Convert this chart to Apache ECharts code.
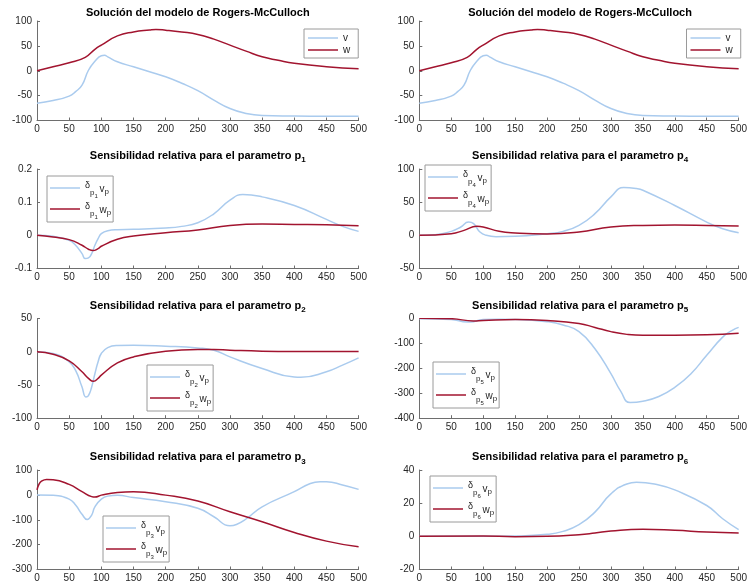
<!DOCTYPE html>
<html>
<head>
<meta charset="utf-8">
<script src="https://cdn.jsdelivr.net/npm/echarts@6/dist/echarts.min.js"></script>
<style>
  html, body { margin: 0; padding: 0; background: #ffffff; }
  #chart { width: 750px; height: 587px; }
</style>
</head>
<body>
<div id="chart"></div>
<script>
// ---- Rogers-McCulloch solution (time samples and values) ----
const tModelV = [0, 25, 50, 60, 70, 80, 90, 100, 105, 110, 125, 150, 175, 200, 225, 250, 275, 300, 325, 350, 400, 450, 500];
const modelV  = [-65.5, -60, -51, -42, -29, 1, 19, 30, 31, 28, 18, 8, -2, -12, -25, -40, -59, -76, -86, -90, -91, -91.5, -91.6];
const tModelW = [0, 25, 50, 75, 90, 100, 125, 150, 175, 185, 200, 225, 250, 275, 300, 325, 350, 375, 400, 450, 500];
const modelW  = [0, 8, 16, 27, 43, 51.5, 70, 78, 82, 83, 81.6, 78, 73, 63.5, 51.5, 39.5, 28, 21, 15, 8, 4];

// ---- relative sensitivity, parameter p1 ----
const tP1V = [0, 25, 50, 60, 70, 75, 80, 85, 90, 95, 100, 110, 125, 150, 200, 225, 250, 275, 300, 320, 350, 400, 450, 475, 500];
const p1V  = [0, -0.003, -0.015, -0.03, -0.055, -0.07, -0.068, -0.055, -0.03, -0.01, 0.005, 0.014, 0.017, 0.018, 0.022, 0.027, 0.038, 0.065, 0.106, 0.123, 0.116, 0.09, 0.048, 0.027, 0.012];
const tP1W = [0, 25, 50, 70, 80, 87, 95, 100, 125, 150, 200, 250, 300, 350, 400, 450, 500];
const p1W  = [0, -0.005, -0.013, -0.03, -0.042, -0.046, -0.04, -0.033, -0.012, -0.002, 0.008, 0.016, 0.03, 0.034, 0.033, 0.032, 0.029];

// ---- relative sensitivity, parameter p2 ----
const tP2V = [0, 25, 50, 60, 70, 76, 80, 85, 90, 95, 100, 110, 125, 150, 200, 250, 275, 300, 350, 400, 410, 450, 475, 500];
const p2V  = [0, -2.5, -15, -28, -53, -68, -66, -53, -33, -15, -2.5, 6.5, 9.6, 10, 8.6, 6, 2.5, -7.6, -25, -38, -38.4, -30, -20, -9];
const tP2W = [0, 25, 50, 70, 80, 88, 95, 100, 125, 150, 200, 250, 275, 300, 350, 400, 500];
const p2W  = [0, -3.5, -13.6, -30, -40, -44.4, -40, -35, -16.7, -7.6, 1, 3.5, 3.5, 2.5, 1, 0.5, 0.5];

// ---- relative sensitivity, parameter p3 ----
const tP3V = [0, 25, 50, 60, 70, 78, 85, 90, 100, 110, 125, 150, 200, 250, 275, 300, 310, 325, 350, 400, 425, 440, 450, 475, 500];
const p3V  = [0, -2, -17, -41, -78, -99, -81, -48, -17, -5, -2, -11, -27.5, -54, -88, -124, -119, -97, -48, 13, 46, 53, 53, 40, 22];
const tP3W = [0, 3, 7, 15, 25, 50, 70, 85, 90, 100, 125, 150, 200, 250, 300, 350, 400, 450, 500];
const p3W  = [20, 42, 55, 62, 61, 42, 13, -7, -9, -1, 10, 13, -1, -25, -68, -108, -151, -186, -209];

// ---- relative sensitivity, parameter p4 ----
const tP4V = [0, 25, 50, 65, 77, 85, 95, 105, 120, 150, 200, 225, 250, 275, 300, 320, 340, 350, 400, 450, 475, 500];
const p4V  = [0, 1, 6, 12.6, 20, 17.6, 5, 0, -2, -1.5, 2.5, 6, 15, 32.7, 58, 72, 70.5, 68, 45, 20, 10, 4];
const tP4W = [0, 50, 70, 90, 100, 125, 150, 200, 250, 300, 350, 400, 450, 500];
const p4W  = [0, 2.5, 7.5, 13.6, 12.6, 6, 3.5, 2, 5, 12.6, 15, 15.6, 15, 14];

// ---- relative sensitivity, parameter p5 ----
const tP5V = [0, 50, 75, 80, 100, 125, 150, 200, 225, 250, 275, 300, 315, 330, 350, 375, 400, 425, 450, 475, 490, 500];
const p5V  = [0, -3, -13, -13, -3, -2, -3, -12, -25, -52, -121, -221, -290, -337, -332, -313, -276, -222, -147, -74, -47, -35];
const tP5W = [0, 50, 85, 100, 150, 200, 250, 275, 300, 325, 350, 400, 450, 500];
const p5W  = [2, 0, -9, -7, -3, -7, -19, -35, -52, -63, -67, -67, -65, -58];

// ---- relative sensitivity, parameter p6 ----
const tP6V = [0, 100, 150, 200, 225, 250, 275, 300, 325, 340, 375, 400, 450, 475, 500];
const p6V  = [0, 0, 0.2, 1.2, 3, 7, 14.6, 25.6, 31.6, 32.6, 31, 28, 18.6, 10.6, 4];
const tP6W = [0, 100, 150, 200, 250, 275, 300, 350, 400, 450, 500];
const p6W  = [0, 0.2, -0.2, 0, 1, 2, 3.2, 4.2, 3.6, 2.6, 2];

// ---- axis ticks ----
const timeTicks   = [0, 50, 100, 150, 200, 250, 300, 350, 400, 450, 500];
const yTicksModel = [-100, -50, 0, 50, 100];
const yTicksP1    = [-0.1, 0, 0.1, 0.2];
const yTicksP2    = [-100, -50, 0, 50];
const yTicksP3    = [-300, -200, -100, 0, 100];
const yTicksP4    = [-50, 0, 50, 100];
const yTicksP5    = [-400, -300, -200, -100, 0];
const yTicksP6    = [-20, 0, 20, 40];

const MODEL_TITLE = 'Solución del modelo de Rogers-McCulloch';
const SENS_TITLE = 'Sensibilidad relativa para el parametro p';

// subplot layout: 4 rows x 2 columns
const panels = [
  { param: null, tv: tModelV, v: modelV, tw: tModelW, w: modelW, ticks: yTicksModel, row: 0, col: 0, leg: [304, 29] },
  { param: null, tv: tModelV, v: modelV, tw: tModelW, w: modelW, ticks: yTicksModel, row: 0, col: 1, leg: [686.5, 29] },
  { param: 1, tv: tP1V, v: p1V, tw: tP1W, w: p1W, ticks: yTicksP1, row: 1, col: 0, leg: [47, 176] },
  { param: 4, tv: tP4V, v: p4V, tw: tP4W, w: p4W, ticks: yTicksP4, row: 1, col: 1, leg: [425, 165] },
  { param: 2, tv: tP2V, v: p2V, tw: tP2W, w: p2W, ticks: yTicksP2, row: 2, col: 0, leg: [147, 365] },
  { param: 5, tv: tP5V, v: p5V, tw: tP5W, w: p5W, ticks: yTicksP5, row: 2, col: 1, leg: [433, 362] },
  { param: 3, tv: tP3V, v: p3V, tw: tP3W, w: p3W, ticks: yTicksP3, row: 3, col: 0, leg: [103, 516] },
  { param: 6, tv: tP6V, v: p6V, tw: tP6W, w: p6W, ticks: yTicksP6, row: 3, col: 1, leg: [430, 476] }
];

const FONT = '"Liberation Sans", Arial, Helvetica, sans-serif';
const BLUE = '#aacbee';
const RED = '#a2142f';
const AXIS = '#6e6e6e';
const TEXT = '#262626';

const colLeft = [37, 419.3];
const colWidth = 321.6;
const rowTop = [21, 169, 318.7, 470];
const rowHeight = 99.5;
const titleTop = [6.8, 147, 297, 448.5];

const zip = (xs, ys) => xs.map((x, i) => [x, ys[i]]);
const fmtNum = (v) => String(Math.round(v * 1000) / 1000);

// rich-text token: fixed box height so vertical offsets are predictable
const tok = (size, h, align, extra) => Object.assign({
  fontFamily: FONT, fontSize: size, color: TEXT, height: h, lineHeight: h, verticalAlign: align
}, extra || {});

const grid = [], xAxis = [], yAxis = [], series = [], title = [], legend = [];

panels.forEach((p, i) => {
  grid.push({ left: colLeft[p.col], top: rowTop[p.row], width: colWidth, height: rowHeight });

  xAxis.push({
    type: 'value', gridIndex: i,
    min: timeTicks[0], max: timeTicks[timeTicks.length - 1], interval: timeTicks[1] - timeTicks[0],
    axisLine: { onZero: false, lineStyle: { color: AXIS, width: 1 } },
    axisTick: { inside: true, length: 3, lineStyle: { color: AXIS } },
    axisLabel: { color: TEXT, fontFamily: FONT, fontSize: 10, margin: 4 },
    splitLine: { show: false }
  });

  const yt = p.ticks;
  yAxis.push({
    type: 'value', gridIndex: i,
    min: yt[0], max: yt[yt.length - 1], interval: yt[1] - yt[0],
    axisLine: { show: true, onZero: false, lineStyle: { color: AXIS, width: 1 } },
    axisTick: { show: true, inside: true, length: 3, lineStyle: { color: AXIS } },
    axisLabel: { color: TEXT, fontFamily: FONT, fontSize: 10, margin: 5, formatter: fmtNum },
    splitLine: { show: false }
  });

  const lineCommon = {
    type: 'line', xAxisIndex: i, yAxisIndex: i,
    showSymbol: false, smooth: 0.5,
    clip: true, silent: true
  };
  series.push(Object.assign({}, lineCommon, {
    name: 'v|' + i, data: zip(p.tv, p.v),
    lineStyle: { color: BLUE, width: 1.5 }, itemStyle: { color: BLUE }
  }));
  series.push(Object.assign({}, lineCommon, {
    name: 'w|' + i, data: zip(p.tw, p.w),
    lineStyle: { color: RED, width: 1.5 }, itemStyle: { color: RED }
  }));

  const cx = colLeft[p.col] + colWidth / 2;
  if (p.param == null) {
    title.push({
      text: MODEL_TITLE, left: cx, top: titleTop[p.row], textAlign: 'center', padding: 0,
      textStyle: { fontFamily: FONT, fontSize: 11, fontWeight: 'bold', color: '#000', lineHeight: 13 }
    });
  } else {
    title.push({
      text: '{a|' + SENS_TITLE + '}{s|' + p.param + '}',
      left: cx, top: titleTop[p.row], textAlign: 'center', padding: 0,
      textStyle: {
        fontFamily: FONT, color: '#000',
        rich: {
          a: tok(11, 17, 'top', { fontWeight: 'bold', color: '#000' }),
          s: tok(8, 8, 'bottom', { fontWeight: 'bold', color: '#000' })
        }
      }
    });
  }

  const legendBase = {
    left: p.leg[0], top: p.leg[1], orient: 'vertical',
    data: ['v|' + i, 'w|' + i],
    icon: 'rect', itemWidth: 30, itemHeight: 1.5,
    selectedMode: false,
    backgroundColor: '#ffffff', borderColor: '#9a9a9a', borderWidth: 1, borderRadius: 0
  };
  if (p.param == null) {
    legend.push(Object.assign(legendBase, {
      padding: [3, 8, 2, 4], itemGap: 0, itemTextGap: 3,
      formatter: (name) => name.split('|')[0],
      textStyle: { fontFamily: FONT, fontSize: 10, color: TEXT, lineHeight: 12 }
    }));
  } else {
    legend.push(Object.assign(legendBase, {
      padding: [2, 2, 2, 3], itemGap: 0, itemTextGap: 2,
      formatter: (name) => {
        const varName = name.split('|')[0];
        return '{d|δ}{p|p}{n|' + p.param + '}{z| }{v|' + varName + '}{q|p}';
      },
      textStyle: {
        fontFamily: FONT, color: TEXT,
        rich: {
          d: tok(9, 15, 'top'),
          p: tok(8, 11, 'bottom'),
          n: tok(6, 4, 'bottom'),
          z: tok(6, 20, 'top'),
          v: tok(10, 17, 'bottom'),
          q: tok(8, 12, 'bottom')
        }
      }
    }));
  }
});

const chart = echarts.init(document.getElementById('chart'), null, { renderer: 'canvas' });
chart.setOption({
  animation: false,
  backgroundColor: '#ffffff',
  textStyle: { fontFamily: FONT },
  title, legend, grid, xAxis, yAxis, series
});
</script>
</body>
</html>
